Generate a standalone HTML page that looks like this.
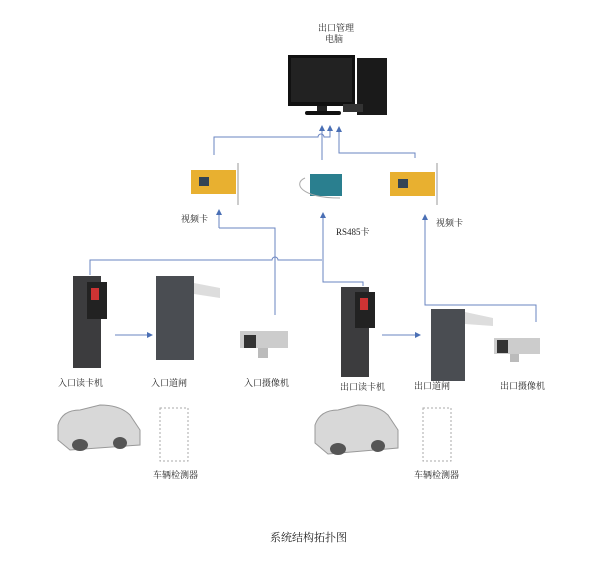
<!DOCTYPE html>
<html><head><meta charset="utf-8"><style>
body{margin:0;background:#fff}
svg{display:block}
text{font-family:"Liberation Serif","Noto Serif CJK SC",serif;fill:#222}
</style></head><body>
<svg width="615" height="571" viewBox="0 0 615 571" xmlns="http://www.w3.org/2000/svg">
<defs><marker id="a" markerWidth="6" markerHeight="6" refX="3" refY="3" orient="auto"><path d="M0,0L6,3L0,6z" fill="#4a6fb5"/></marker></defs>
<g font-size="9">
<text x="318" y="31">出口管理</text><text x="325" y="42">电脑</text>
<text x="181" y="222">视频卡</text><text x="336" y="235">RS485卡</text><text x="436" y="226">视频卡</text>
<text x="58" y="386">入口读卡机</text><text x="151" y="386">入口道闸</text><text x="244" y="386">入口摄像机</text>
<text x="340" y="390">出口读卡机</text><text x="414" y="389">出口道闸</text><text x="500" y="389">出口摄像机</text>
<text x="153" y="478">车辆检测器</text><text x="414" y="478">车辆检测器</text>
</g>
<text x="270" y="541" font-size="11">系统结构拓扑图</text>
<!-- computer -->
<rect x="288" y="55" width="67" height="51" fill="#111"/><rect x="291" y="58" width="61" height="44" fill="#222"/>
<rect x="317" y="106" width="10" height="6" fill="#222"/><rect x="305" y="111" width="36" height="4" rx="2" fill="#111"/>
<rect x="357" y="58" width="30" height="57" fill="#1a1a1a"/><rect x="343" y="104" width="20" height="8" fill="#333"/>
<!-- connectors -->
<g stroke="#6a84c0" fill="none" stroke-width="1">
<path d="M214 155V137H318a3 3 0 0 1 6 0H330V128" marker-end="url(#a)"/>
<path d="M322 160V128" marker-end="url(#a)"/>
<path d="M415 158V153H339V129" marker-end="url(#a)"/>
<path d="M219 228H275V315"/><path d="M219 228V212" marker-end="url(#a)"/>
<path d="M90 275V260H272a3 3 0 0 1 6 0H322"/>
<path d="M323 228V282H363V286"/><path d="M323 228V215" marker-end="url(#a)"/>
<path d="M425 228V305H536V322"/><path d="M425 228V217" marker-end="url(#a)"/>
<path d="M115 335H150" marker-end="url(#a)"/><path d="M382 335H418" marker-end="url(#a)"/>
</g>
<!-- cards -->
<rect x="191" y="170" width="45" height="24" fill="#e8b030"/><rect x="199" y="177" width="10" height="9" fill="#345"/><line x1="238" y1="163" x2="238" y2="205" stroke="#999"/>
<rect x="310" y="174" width="32" height="22" fill="#2a7f8f"/><path d="M305 178c-12 5-5 20 35 20" stroke="#aaa" fill="none"/>
<rect x="390" y="172" width="45" height="24" fill="#e8b030"/><rect x="398" y="179" width="10" height="9" fill="#345"/><line x1="437" y1="163" x2="437" y2="205" stroke="#999"/>
<!-- entry -->
<rect x="73" y="276" width="28" height="92" fill="#3c3c3e"/><rect x="87" y="282" width="20" height="37" fill="#222"/><rect x="91" y="288" width="8" height="12" fill="#c33"/>
<rect x="156" y="276" width="38" height="84" fill="#4a4d52"/><polygon points="194,283 220,288 220,298 194,294" fill="#ddd"/>
<rect x="240" y="331" width="48" height="17" fill="#ccc"/><rect x="244" y="335" width="12" height="13" fill="#333"/><rect x="258" y="348" width="10" height="10" fill="#bbb"/>
<rect x="341" y="287" width="28" height="90" fill="#3c3c3e"/><rect x="355" y="292" width="20" height="36" fill="#222"/><rect x="360" y="298" width="8" height="12" fill="#c33"/>
<rect x="431" y="309" width="34" height="72" fill="#4a4d52"/><polygon points="465,312 493,318 493,326 465,324" fill="#ddd"/>
<rect x="494" y="338" width="46" height="16" fill="#ccc"/><rect x="497" y="340" width="11" height="13" fill="#333"/><rect x="510" y="354" width="9" height="8" fill="#bbb"/>
<!-- cars -->
<path d="M58 425 Q62 410 80 410 L100 405 Q120 405 130 415 L140 430 L140 445 L70 450 L58 440z" fill="#d8d8d8" stroke="#999"/>
<ellipse cx="80" cy="445" rx="8" ry="6" fill="#555"/><ellipse cx="120" cy="443" rx="7" ry="6" fill="#555"/>
<path d="M315 425 Q320 410 338 410 L358 405 Q378 405 388 415 L398 430 L398 448 L328 454 L315 443z" fill="#d8d8d8" stroke="#999"/>
<ellipse cx="338" cy="449" rx="8" ry="6" fill="#555"/><ellipse cx="378" cy="446" rx="7" ry="6" fill="#555"/>
<!-- detectors -->
<rect x="160" y="408" width="28" height="53" fill="none" stroke="#aaa" stroke-dasharray="2,2"/>
<rect x="423" y="408" width="28" height="53" fill="none" stroke="#aaa" stroke-dasharray="2,2"/>
</svg>
</body></html>
